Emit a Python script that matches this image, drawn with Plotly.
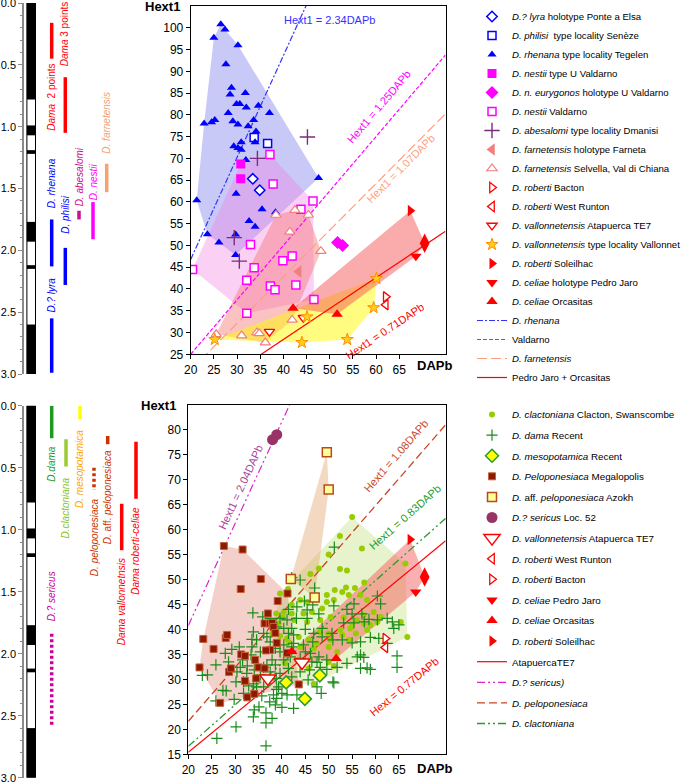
import math
import plotly.graph_objects as go

FONT = "Liberation Sans, Arial, sans-serif"
W, H = 685, 782

# ---------------- DATA: top panel (Hext1 vs DAPb) ----------------
lyra = [(33.4, 65.3), (34.9, 62.7)]
philisi = [(33.7, 74.8), (36.6, 73.4)]
rhenana = [(26.5, 100.8), (27.4, 99.6), (25.0, 97.7), (30.2, 96.0), (27.6, 91.6), (28.8, 86.2),
           (28.5, 84.7), (31.8, 85.0), (29.9, 82.5), (30.6, 82.5), (32.0, 81.7), (34.6, 82.1),
           (37.0, 80.4), (28.1, 80.4), (22.9, 78.0), (24.5, 78.3), (25.2, 78.8), (29.1, 78.5),
           (30.2, 77.8), (32.4, 77.4), (33.6, 78.8), (34.1, 76.2), (29.3, 72.8), (30.2, 72.4),
           (30.9, 72.0), (30.9, 73.7), (33.9, 73.7), (31.9, 69.6), (47.6, 65.5), (29.8, 61.9),
           (21.3, 60.4), (35.4, 58.3), (32.6, 55.6), (33.9, 54.3), (38.3, 57.6), (23.6, 52.6),
           (26.1, 50.7), (29.7, 52.5), (29.7, 47.8)]
nestii_type = [(30.8, 68.7), (30.8, 65.3)]
eurygonos = [(51.7, 50.7), (52.8, 50.0)]
nestii_valdarno = [(37.1, 70.9), (37.8, 64.1), (46.4, 60.2), (20.4, 44.5), (32.9, 50.2), (33.7, 44.9),
                   (32.1, 42.0), (32.1, 34.4), (37.2, 40.7), (38.2, 39.8), (39.9, 46.5), (41.9, 47.6),
                   (42.7, 40.9), (43.8, 58.3), (46.6, 37.6)]
abesalomi = [(45.2, 74.9), (34.4, 70.0), (29.4, 51.8), (30.5, 46.4)]
farneta = [(43.3, 44.0)]
selvella = [(25.5, 29.6), (31.0, 29.3), (34.3, 30.0), (34.8, 29.8), (36.1, 27.7), (38.4, 57.0),
            (41.4, 53.1), (42.5, 58.1), (45.4, 57.0), (48.1, 48.7), (41.9, 32.9)]
bacton = [(62.1, 38.2)]
west_runton = [(62.1, 36.4)]
atapuerca = [(37.0, 30.2), (44.3, 33.4)]
vallonnet = [(25.2, 28.4), (45.1, 33.6), (44.0, 27.7), (53.8, 28.4), (59.5, 35.7), (60.1, 42.4)]
soleilhac = [(67.4, 58.0)]
pedro_jaro = [(68.6, 47.5)]
orcasitas = [(42.1, 35.6), (51.6, 34.2)]
red_diamond = [(70.5, 50.5)]

top_line_names = ["<i>D. rhenana</i>", "Valdarno", "<i>D. farnetensis</i>", "Pedro Jaro + Orcasitas"]
top_slopes = [2.34, 1.25, 1.07, 0.71]
top_line_labels = ["Hext1 = 2.34DAPb", "Hext1 = 1.25DAPb", "Hext1 = 1.07DAPb", "Hext1 = 0.71DAPb"]

# ---------------- DATA: bottom panel ----------------
clactoniana = [(55.0, 62.5), (52.4, 58.7), (50.0, 55.0), (57.1, 56.2), (47.9, 52.2), (46.1, 51.1),
               (52.4, 52.1), (53.9, 51.8), (66.4, 53.2), (41.3, 48.1), (51.3, 47.9), (53.7, 48.4),
               (55.6, 48.3), (57.6, 49.4), (52.9, 47.5), (54.3, 46.9), (56.8, 46.9), (58.2, 45.9),
               (49.6, 45.5), (51.1, 45.9), (48.6, 44.2), (46.4, 43.5), (44.6, 43.2), (42.1, 43.2),
               (38.8, 43.2), (40.2, 42.4), (42.6, 41.9), (45.4, 41.5), (48.2, 41.9), (50.4, 42.5),
               (53.2, 42.4), (56.1, 41.9), (57.5, 41.2), (58.9, 40.9), (60.4, 41.5), (54.6, 40.2),
               (52.5, 39.9), (49.9, 39.2), (48.2, 39.5), (43.6, 38.5), (41.1, 38.2), (45.7, 38.0),
               (50.4, 37.9), (52.9, 38.9), (55.8, 39.2), (58.2, 39.9), (65.4, 41.5), (66.8, 38.5),
               (46.8, 36.2), (50.0, 36.5), (51.8, 35.5), (54.3, 37.9), (44.0, 36.5), (41.4, 37.5),
               (40.7, 33.2), (50.0, 33.5), (51.1, 32.7), (46.8, 29.1), (41.1, 29.1), (43.2, 33.9),
               (47.5, 30.9), (45.7, 32.2), (39.6, 47.2), (42.1, 44.9), (43.9, 45.9), (47.5, 46.2),
               (49.6, 46.9), (45.4, 45.5), (40.4, 43.5), (39.3, 41.2), (37.9, 39.2), (39.6, 38.7),
               (47.5, 37.2), (55.0, 41.2), (57.5, 42.9), (59.6, 43.5), (61.1, 42.5)]
dama = [(36.6, 16.7), (26.1, 18.2), (30.2, 20.5), (36.6, 21.3), (36.6, 23.3), (33.9, 22.5), (34.1, 23.9),
        (37.9, 22.2), (35.1, 24.5), (38.6, 24.9), (40.0, 24.4), (42.5, 24.2), (37.4, 25.5), (38.9, 26.2),
        (33.9, 27.2), (31.8, 27.2), (28.1, 27.7), (25.9, 25.7), (30.2, 29.5), (32.9, 28.7), (34.6, 28.5),
        (36.1, 28.5), (38.9, 28.0), (40.0, 27.2), (41.1, 26.9), (43.2, 26.9), (48.4, 27.2), (47.5, 28.5),
        (45.6, 29.9), (50.9, 29.5), (49.6, 32.0), (48.2, 32.4), (47.5, 33.4), (45.9, 31.9), (43.9, 31.5),
        (42.1, 30.5), (41.4, 32.2), (39.6, 31.2), (38.8, 30.2), (37.5, 29.9), (35.4, 30.9), (34.1, 31.9),
        (32.6, 32.7), (31.1, 32.4), (31.6, 33.9), (28.6, 33.5), (30.9, 36.5), (29.3, 36.0), (27.9, 35.2),
        (25.9, 32.9), (24.1, 30.9), (33.4, 34.9), (35.4, 35.5), (33.6, 36.5), (34.6, 37.9), (33.6, 38.0),
        (33.9, 39.5), (33.8, 43.3), (35.9, 42.5), (37.5, 42.2), (39.6, 42.2), (41.4, 44.0), (43.2, 44.5),
        (45.4, 43.9), (47.9, 43.1), (45.4, 42.2), (43.1, 42.2), (41.1, 41.9), (38.9, 40.5), (40.4, 40.2),
        (42.1, 40.2), (42.5, 38.9), (45.0, 40.0), (46.8, 39.2), (48.6, 40.2), (50.7, 39.2), (48.6, 38.5),
        (46.6, 37.5), (44.6, 36.9), (42.5, 37.2), (40.4, 36.9), (38.6, 36.2), (39.6, 35.5), (41.8, 34.5),
        (43.9, 34.2), (46.1, 35.2), (47.9, 34.5), (49.6, 33.9), (46.4, 33.5), (40.4, 33.9), (37.9, 33.9),
        (36.8, 32.9), (38.6, 32.9), (36.1, 32.4), (31.8, 29.5), (32.5, 31.2), (30.4, 31.5), (37.5, 31.5),
        (39.3, 28.5), (38.2, 26.9), (35.7, 26.7), (33.9, 29.1), (47.0, 48.3), (44.8, 45.7), (46.6, 44.9),
        (51.1, 44.7), (53.9, 44.0), (55.4, 45.1), (60.4, 46.7), (61.1, 45.1), (55.0, 43.1), (57.1, 43.1),
        (58.6, 42.0), (60.4, 41.9), (62.5, 42.2), (63.6, 41.5), (65.0, 40.9), (55.4, 41.3), (53.2, 41.3),
        (57.6, 41.5), (58.9, 38.4), (52.9, 37.9), (55.0, 37.3), (56.8, 37.5), (60.7, 38.2), (62.5, 37.2),
        (56.8, 34.9), (64.6, 34.7), (64.6, 32.4), (58.2, 32.3), (58.9, 32.0), (56.8, 32.2), (53.9, 33.2),
        (51.8, 32.4), (56.1, 34.5), (57.5, 34.4), (37.5, 37.5), (36.1, 39.2), (36.8, 38.5), (41.4, 39.2),
        (42.1, 36.5), (45.0, 35.5), (50.9, 37.9), (43.9, 49.9), (42.1, 50.4), (51.2, 56.5), (63.9, 40.2),
        (51.1, 29.3), (23.0, 30.8), (29.8, 26.0), (27.4, 27.8)]
mesopotamica = [(40.9, 29.4), (48.1, 30.8), (44.9, 26.1)]
megalopolis = [(27.6, 56.7), (31.6, 56.0), (35.5, 50.1), (31.2, 48.1), (41.2, 47.2), (39.1, 45.7),
               (37.0, 43.2), (36.3, 41.2), (37.4, 41.2), (37.9, 41.3), (38.2, 40.5), (38.6, 39.3),
               (38.9, 37.3), (37.5, 35.9), (36.6, 35.8), (23.2, 38.1), (25.4, 36.1), (28.0, 38.3),
               (28.3, 38.9), (22.4, 32.4), (26.8, 25.3), (28.7, 31.5), (29.1, 32.2), (31.3, 35.0),
               (32.1, 34.7), (32.1, 29.7), (32.6, 26.4), (34.3, 33.9), (34.5, 30.2), (34.1, 27.1),
               (35.0, 32.4), (36.3, 32.2), (41.1, 35.3), (43.6, 29.0)]
azokh = [(49.6, 75.5), (50.0, 68.0), (41.9, 50.1), (47.0, 46.4)]
sericus = [(38.0, 78.0), (38.9, 79.0)]

bot_line_names = ["AtapuercaTE7", "<i>D.? sericus)</i>", "<i>D. peloponesiaca</i>", "<i>D. clactoniana</i>"]
bot_slopes = [0.77, 2.04, 1.08, 0.83]
bot_line_labels = ["Hext = 0.77DAPb", "Hext1 = 2.04DAPb", "Hext1 = 1.08DAPb", "Hext1 = 0.83DAPb"]

# ---------------- DATA: stratigraphic columns (Ma) ----------------
chron_normal_start = [0.0, 0.99, 1.19, 1.77, 2.12, 2.60]
chron_normal_end = [0.78, 1.07, 1.22, 1.93, 2.15, 3.0]
age_ticks = [0.0, 0.5, 1.0, 1.5, 2.0, 2.5, 3.0]

top_taxa = ["<i>Dama</i>  2 points", "<i>Dama</i> 3 points", "<i>D. rhenana</i>", "<i>D.? lyra</i>",
            "<i>D. philisi</i>", "<i>D. abesalomi</i>", "<i>D. nestii</i>", "<i>D. farnetensis</i>"]
top_start = [0.16, 0.60, 1.75, 2.55, 1.98, 1.68, 1.61, 1.30]
top_end = [0.45, 1.05, 2.13, 2.99, 2.28, 1.75, 1.91, 1.53]

bot_taxa = ["<i>D.dama</i>", "<i>D.clactoniana</i>", "<i>D. mesopotamica</i>", "<i>D. peloponesiaca</i>",
            "<i>D.</i> aff. <i>peloponesiaca</i>", "<i>Dama vallonnetnsis</i>", "<i>Dama roberti-celiae</i>",
            "<i>D.? sericus</i>"]
bot_start = [0.0, 0.27, 0.0, 0.50, 0.245, 0.79, 0.29, 1.84]
bot_end = [0.263, 0.49, 0.11, 0.68, 0.31, 1.165, 0.75, 2.58]

# ---------------- STYLE / LAYOUT ----------------
top_lane = [51.7, 65.3, 51.7, 51.7, 65.3, 79.0, 93.0, 106.7]
top_label_age = [0.76, 0.25, 1.46, 2.36, 1.71, 1.41, 1.45, 0.97]
top_bar_col = ["#ff0000", "#ff0000", "#0000ff", "#0000ff", "#0000ff", "#c8108c", "#ff00ff", "#f7a072"]
top_txt_col = ["#ff0000", "#ff0000", "#0000ff", "#0000ff", "#0000ff", "#c8108c", "#ff00ff", "#f7a072"]

bot_lane = [51.7, 66.0, 80.0, 94.0, 107.7, 121.7, 136.0, 51.7]
bot_label_age = [0.47, 0.83, 0.51, 1.06, 0.74, 1.58, 1.17, 1.54]
bot_bar_col = ["#1e9a1e", "#99cc33", "#ffff00", "#cc3300", "#cc3300", "#ff0000", "#ff0000", "#cc0099"]
bot_txt_col = ["#1e9a1e", "#8cbf26", "#ffa500", "#cc3300", "#cc3300", "#ff0000", "#ff0000", "#cc0099"]
bot_dotted = [False, False, False, True, False, False, False, True]
STRAT_FS = 10

def unzip(pairs):
    return [p[0] for p in pairs], [p[1] for p in pairs]

def convex_hull(pairs):
    pts = sorted(set(pairs))
    if len(pts) < 3:
        return unzip(pts)
    def cross(o, a, b):
        return (a[0]-o[0])*(b[1]-o[1]) - (a[1]-o[1])*(b[0]-o[0])
    lower, upper = [], []
    for p in pts:
        while len(lower) >= 2 and cross(lower[-2], lower[-1], p) <= 0:
            lower.pop()
        lower.append(p)
    for p in reversed(pts):
        while len(upper) >= 2 and cross(upper[-2], upper[-1], p) <= 0:
            upper.pop()
        upper.append(p)
    h = lower[:-1] + upper[:-1]
    h.append(h[0])
    return unzip(h)

fig = go.Figure()

def add_hull(pairs, color, xa, ya):
    hx, hy = convex_hull(pairs)
    fig.add_trace(go.Scatter(x=hx, y=hy, mode="lines", fill="toself", fillcolor=color,
                             line=dict(width=0), hoverinfo="skip", showlegend=False,
                             xaxis=xa, yaxis=ya))

def add_line(slope, name, color, dash, xa, ya, legend, rank, width=1.0):
    xs = [20, 75]
    fig.add_trace(go.Scatter(x=xs, y=[slope * v for v in xs], mode="lines", name=name,
                             line=dict(color=color, dash=dash, width=width),
                             xaxis=xa, yaxis=ya, legend=legend, legendrank=rank,
                             legendgroup="%s_g%02d" % (legend, rank)))

def add_pts(pairs, name, symbol, size, color, lcolor, lwidth, xa, ya, legend, rank, showlegend=True):
    xs, ys = unzip(pairs)
    fig.add_trace(go.Scatter(x=xs, y=ys, mode="markers", name=name,
                             marker=dict(symbol=symbol, size=size, color=color,
                                         line=dict(color=lcolor, width=lwidth)),
                             xaxis=xa, yaxis=ya, legend=legend, legendrank=rank,
                             legendgroup="%s_g%02d" % (legend, rank), showlegend=showlegend))

# ---------- top panel ----------
add_hull(rhenana, "rgba(100,100,235,0.35)", "x", "y")
add_hull(nestii_valdarno + nestii_type, "rgba(240,120,225,0.35)", "x", "y")
add_hull(selvella + farneta, "rgba(245,110,110,0.42)", "x", "y")
add_hull(vallonnet, "rgba(255,250,0,0.5)", "x", "y")
add_hull(orcasitas + pedro_jaro + soleilhac + red_diamond, "rgba(245,80,80,0.48)", "x", "y")

top_line_cols = ["#3333ff", "#ff00ff", "#ff9f80", "#ff0000"]
top_line_dash = ["6px,2px,2px,2px", "4px,2px", "10px,4px", "solid"]
for i in range(4):
    add_line(top_slopes[i], top_line_names[i], top_line_cols[i], top_line_dash[i], "x", "y", "legend", 17 + i, 1.2)

add_pts(lyra, "<i>D.? lyra</i> holotype Ponte a Elsa", "diamond", 8, "white", "#0000ff", 1.5, "x", "y", "legend", 1)
add_pts(philisi, "<i>D. philisi</i>  type locality Senèze", "square", 8, "white", "#0000ff", 1.5, "x", "y", "legend", 2)
add_pts(rhenana, "<i>D. rhenana</i> type locality Tegelen", "triangle-up", 8, "#0000ff", "#0000ff", 0, "x", "y", "legend", 3)
add_pts(nestii_type, "<i>D. nestii</i> type U Valdarno", "square", 9, "#ff00ff", "#ff00ff", 0, "x", "y", "legend", 4)
add_pts(eurygonos, "<i>D. n. eurygonos</i> holotype U Valdarno", "diamond", 10, "#ff00ff", "#ff00ff", 0, "x", "y", "legend", 5)
add_pts(nestii_valdarno, "<i>D. nestii</i> Valdarno", "square", 8, "white", "#ff00ff", 1.5, "x", "y", "legend", 6)
add_pts(abesalomi, "<i>D. abesalomi</i> type locality Dmanisi", "cross-thin", 11, "#7b2d7b", "#7b2d7b", 1.4, "x", "y", "legend", 7)
add_pts(farneta, "<i>D. farnetensis</i> holotype Farneta", "triangle-left", 11, "#f08080", "#f08080", 0, "x", "y", "legend", 8)
add_pts(selvella, "<i>D. farnetensis</i> Selvella, Val di Chiana", "triangle-up", 9, "white", "#f08080", 1.2, "x", "y", "legend", 9)
add_pts(bacton, "<i>D. roberti</i> Bacton", "triangle-right", 9, "white", "#ff0000", 1.3, "x", "y", "legend", 10)
add_pts(west_runton, "<i>D. roberti</i> West Runton", "triangle-left", 9, "white", "#ff0000", 1.3, "x", "y", "legend", 11)
add_pts(atapuerca, "<i>D. vallonnetensis</i> Atapuerca TE7", "triangle-down", 9, "white", "#ff0000", 1.3, "x", "y", "legend", 12)
add_pts(vallonnet, "<i>D. vallonnetensis</i> type locality Vallonnet", "star", 9, "#ffd21a", "#ff8c00", 1, "x", "y", "legend", 13)
add_pts(soleilhac, "<i>D. roberti</i> Soleilhac", "triangle-right", 10, "#ff0000", "#ff0000", 0, "x", "y", "legend", 14)
add_pts(pedro_jaro, "<i>D. celiae</i> holotype Pedro Jaro", "triangle-down", 10, "#ff0000", "#ff0000", 0, "x", "y", "legend", 15)
add_pts(orcasitas, "<i>D. celiae</i> Orcasitas", "triangle-up", 10, "#ff0000", "#ff0000", 0, "x", "y", "legend", 16)
add_pts(red_diamond, "red diamond", "diamond-tall", 14, "#ff0000", "#ff0000", 0, "x", "y", "legend", 99, showlegend=False)

# ---------- bottom panel ----------
add_hull(clactoniana, "rgba(175,215,90,0.3)", "x2", "y2")
add_hull(megalopolis, "rgba(220,120,100,0.35)", "x2", "y2")
add_hull(azokh, "rgba(225,160,100,0.4)", "x2", "y2")
add_hull(orcasitas + pedro_jaro + soleilhac + red_diamond + atapuerca[1:], "rgba(245,80,80,0.45)", "x2", "y2")

bot_line_cols = ["#ff0000", "#dd22cc", "#cc4422", "#2a9a2a"]
bot_line_dash = ["solid", "8px,3px,2px,3px,2px,3px", "8px,4px", "8px,3px,2px,3px,2px,3px"]
bot_line_w = [1.2, 1.2, 1.3, 1.3]
for i in range(4):
    add_line(bot_slopes[i], bot_line_names[i], bot_line_cols[i], bot_line_dash[i], "x2", "y2", "legend2", 13 + i, bot_line_w[i])

add_pts(clactoniana, "<i>D. clactoniana</i> Clacton, Swanscombe", "circle", 6, "#99cc00", "#99cc00", 0, "x2", "y2", "legend2", 1)
add_pts(dama, "<i>D. dama</i> Recent", "cross-thin", 8, "#1a8c1a", "#1a8c1a", 1.2, "x2", "y2", "legend2", 2)
add_pts(mesopotamica, "<i>D. mesopotamica</i> Recent", "diamond", 10, "#ffff00", "#2a9a2a", 1.5, "x2", "y2", "legend2", 3)
add_pts(megalopolis, "<i>D. Peloponesiaca</i> Megalopolis", "square", 7, "#8b1a00", "#c8603a", 1, "x2", "y2", "legend2", 4)
add_pts(azokh, "<i>D.</i> aff. <i>peloponesiaca</i> Azokh", "square", 9, "#ffff99", "#b84a1a", 1.5, "x2", "y2", "legend2", 5)
add_pts(sericus, "<i>D.? sericus</i> Loc. 52", "circle", 11, "#993366", "#993366", 0, "x2", "y2", "legend2", 6)
add_pts(atapuerca, "<i>D. vallonnetensis</i> Atapuerca TE7", "triangle-down", 14, "white", "#ff0000", 1.5, "x2", "y2", "legend2", 7)
add_pts(west_runton, "<i>D. roberti</i> West Runton", "triangle-left", 9, "white", "#ff0000", 1.3, "x2", "y2", "legend2", 8)
add_pts(bacton, "<i>D. roberti</i> Bacton", "triangle-right", 9, "white", "#ff0000", 1.3, "x2", "y2", "legend2", 9)
add_pts(pedro_jaro, "<i>D. celiae</i> Pedro Jaro", "triangle-down", 10, "#ff0000", "#ff0000", 0, "x2", "y2", "legend2", 10)
add_pts(orcasitas, "<i>D. celiae</i> Orcasitas", "triangle-up", 10, "#ff0000", "#ff0000", 0, "x2", "y2", "legend2", 11)
add_pts(soleilhac, "<i>D. roberti</i> Soleilhac", "triangle-right", 10, "#ff0000", "#ff0000", 0, "x2", "y2", "legend2", 12)
add_pts(red_diamond, "red diamond", "diamond-tall", 14, "#ff0000", "#ff0000", 0, "x2", "y2", "legend2", 99, showlegend=False)

# ---------- stratigraphic columns ----------
COL_X, COL_W = 31.2, 8.6
for xa, ya in (("x3", "y3"), ("x4", "y4")):
    fig.add_trace(go.Bar(x=[COL_X], base=[0], y=[3.0], width=COL_W,
                         marker=dict(color="white", line=dict(color="black", width=1)),
                         showlegend=False, hoverinfo="skip", xaxis=xa, yaxis=ya))
    fig.add_trace(go.Bar(x=[COL_X] * len(chron_normal_start), base=chron_normal_start,
                         y=[e - s for s, e in zip(chron_normal_start, chron_normal_end)], width=COL_W,
                         marker=dict(color="black", line=dict(width=0)),
                         showlegend=False, hoverinfo="skip", xaxis=xa, yaxis=ya))

annotations = []
for i in range(len(top_taxa)):
    fig.add_trace(go.Bar(x=[top_lane[i]], base=[top_start[i]], y=[top_end[i] - top_start[i]], width=3.5,
                         marker=dict(color=top_bar_col[i], line=dict(width=0)),
                         showlegend=False, hoverinfo="skip", xaxis="x3", yaxis="y3"))
    annotations.append(dict(text=top_taxa[i], x=top_lane[i], y=top_label_age[i], xref="x3", yref="y3",
                            textangle=-90, showarrow=False, xanchor="center", yanchor="middle",
                            font=dict(family=FONT, size=STRAT_FS, color=top_txt_col[i])))
for i in range(len(bot_taxa)):
    if bot_dotted[i]:
        fig.add_trace(go.Scatter(x=[bot_lane[i], bot_lane[i]], y=[bot_start[i], bot_end[i]], mode="lines",
                                 line=dict(color=bot_bar_col[i], width=3.5, dash="3px,2.5px"),
                                 showlegend=False, hoverinfo="skip", xaxis="x4", yaxis="y4"))
    else:
        fig.add_trace(go.Bar(x=[bot_lane[i]], base=[bot_start[i]], y=[bot_end[i] - bot_start[i]], width=3.5,
                             marker=dict(color=bot_bar_col[i], line=dict(width=0)),
                             showlegend=False, hoverinfo="skip", xaxis="x4", yaxis="y4"))
    annotations.append(dict(text=bot_taxa[i], x=bot_lane[i], y=bot_label_age[i], xref="x4", yref="y4",
                            textangle=-90, showarrow=False, xanchor="center", yanchor="middle",
                            font=dict(family=FONT, size=STRAT_FS, color=bot_txt_col[i])))

# ---------- regression line labels ----------
top_dom_px = (190.7, 445.5, 6.0, 354.3)   # left, right, top, bottom in pixels
bot_dom_px = (188.3, 445.7, 404.7, 754.3)
top_rng = (20, 75, 25, 105)
bot_rng = (20, 75, 15, 85)

def angle(slope, dom, rng):
    sx = (dom[1] - dom[0]) / (rng[1] - rng[0])
    sy = (dom[3] - dom[2]) / (rng[3] - rng[2])
    return math.degrees(math.atan(slope * sy / sx))

top_lab_pos = [(50.0, 101.7), (60.5, 81.9), (65.2, 67.6), (61.9, 30.4)]
top_lab_col = ["#3333ff", "#ff00ff", "#ff9f80", "#ff0000"]
for i in range(4):
    ang = 0 if i == 0 else -angle(top_slopes[i], top_dom_px, top_rng)
    annotations.append(dict(text=top_line_labels[i], x=top_lab_pos[i][0], y=top_lab_pos[i][1], xref="x", yref="y",
                            textangle=ang, showarrow=False, xanchor="center", yanchor="middle",
                            font=dict(family=FONT, size=11, color=top_lab_col[i])))
bot_lab_pos = [(66.1, 28.4), (31.05, 68.4), (64.3, 74.8), (66.3, 62.6)]
bot_lab_col = ["#ff0000", "#a8409a", "#c84a1e", "#2a9a2a"]
for i in range(4):
    ang = -angle(bot_slopes[i], bot_dom_px, bot_rng)
    annotations.append(dict(text=bot_line_labels[i], x=bot_lab_pos[i][0], y=bot_lab_pos[i][1], xref="x2", yref="y2",
                            textangle=ang, showarrow=False, xanchor="center", yanchor="middle",
                            font=dict(family=FONT, size=11, color=bot_lab_col[i])))

# axis titles
for (tx, ty, txt) in ((162, 7, "Hext1"), (158, 405, "Hext1"), (434, 365, "DAPb"), (434, 768, "DAPb")):
    annotations.append(dict(text="<b>%s</b>" % txt, x=tx / W, y=1 - ty / H, xref="paper", yref="paper",
                            showarrow=False, xanchor="center", yanchor="middle",
                            font=dict(family=FONT, size=13, color="black")))

def pf(v):
    return 1 - v / H

sc_axis = dict(showline=True, mirror=True, linecolor="black", linewidth=1, ticks="outside", ticklen=4,
               tickcolor="black", showgrid=False, zeroline=False, automargin=False,
               tickfont=dict(family=FONT, size=12, color="black"))
strat_y = dict(showline=True, linecolor="#8a8a8a", linewidth=1.5, ticks="outside", ticklen=4, tickcolor="#8a8a8a",
               tickvals=age_ticks, tickformat=".1f", autorange=False, range=[3.0, 0.0], showgrid=False,
               zeroline=False, automargin=False, ticklabeloverflow="allow",
               tickfont=dict(family=FONT, size=11, color="black"),
               minor=dict(dtick=0.1, ticks="outside", ticklen=2, tickcolor="#8a8a8a", showgrid=False))

fig.update_layout(
    width=W, height=H, margin=dict(l=0, r=0, t=0, b=0, autoexpand=False),
    paper_bgcolor="white", plot_bgcolor="rgba(0,0,0,0)",
    barmode="overlay", font=dict(family=FONT, color="black"),
    xaxis=dict(domain=[top_dom_px[0] / W, top_dom_px[1] / W], range=[20, 75], tickvals=list(range(20, 70, 5)),
               anchor="y", **sc_axis),
    yaxis=dict(domain=[pf(top_dom_px[3]), pf(top_dom_px[2])], range=[25, 105], tickvals=list(range(25, 105, 5)),
               anchor="x", **sc_axis),
    xaxis2=dict(domain=[bot_dom_px[0] / W, bot_dom_px[1] / W], range=[20, 75], tickvals=list(range(20, 70, 5)),
                anchor="y2", **sc_axis),
    yaxis2=dict(domain=[pf(bot_dom_px[3]), pf(bot_dom_px[2])], range=[15, 85], tickvals=list(range(15, 85, 5)),
                anchor="x2", **sc_axis),
    xaxis3=dict(domain=[24 / W, 170 / W], range=[24, 170], visible=False, anchor="y3", automargin=False),
    yaxis3=dict(domain=[pf(374), pf(3)], anchor="x3", **strat_y),
    xaxis4=dict(domain=[24 / W, 170 / W], range=[24, 170], visible=False, anchor="y4", automargin=False),
    yaxis4=dict(domain=[pf(777.7), pf(405.7)], anchor="x4", **strat_y),
    legend=dict(x=472 / W, y=pf(2), xanchor="left", yanchor="top", bgcolor="rgba(0,0,0,0)",
                font=dict(family=FONT, size=9.6, color="black"), tracegroupgap=0, traceorder="normal"),
    legend2=dict(x=472 / W, y=pf(400), xanchor="left", yanchor="top", bgcolor="rgba(0,0,0,0)",
                 font=dict(family=FONT, size=9.8, color="black"), tracegroupgap=1.6, traceorder="grouped"),
    annotations=annotations,
    showlegend=True,
)

fig.write_html("out.html", config={"displayModeBar": False},
               post_script="document.body.style.margin='0';document.body.style.padding='0';")
